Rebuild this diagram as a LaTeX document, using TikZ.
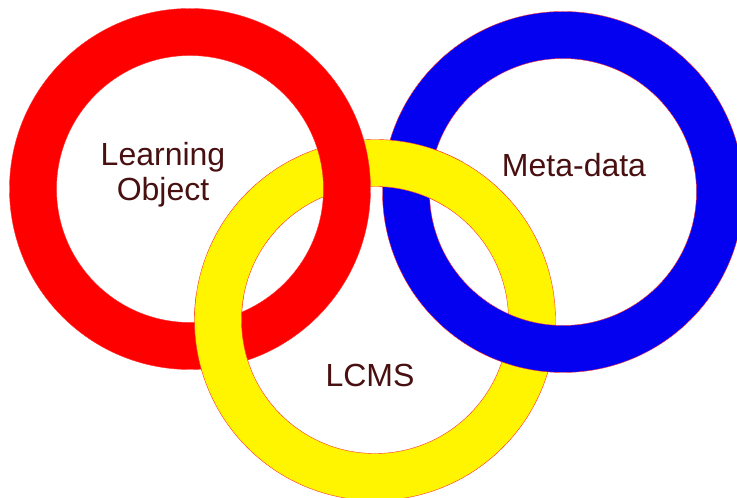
\documentclass[tikz,border=0pt]{standalone}
\usepackage{fontspec}
\setmainfont{Liberation Sans}
\usepackage{tikz}

\definecolor{ringred}{RGB}{255,0,0}
\definecolor{ringblue}{RGB}{4,0,240}
\definecolor{ringyellow}{RGB}{255,245,0}
\definecolor{labeltext}{RGB}{72,16,16}

\tikzset{
  ring/.style={even odd rule, draw=red!80, line width=0.4pt},
  label/.style={text=labeltext, font=\fontsize{32}{35}\selectfont, align=center}
}

\begin{document}
\begin{tikzpicture}[x=1pt, y=1pt]

        \useasboundingbox (0, 0) rectangle (737, 498);
        \clip (0, 0) rectangle (737, 498);

        % ring centres
        \coordinate (lo) at (190, 309);
        \coordinate (md) at (563, 306);
        \coordinate (lcms) at (375, 178);

        % where the yellow ring passes over the others
        \coordinate (cross-lo) at (219.7, 154.8);
        \coordinate (cross-md) at (408, 331.6);

        \filldraw[ring, fill=ringyellow] (lcms) circle (180.5) (lcms) circle (133.5);
        \filldraw[ring, fill=ringred] (lo) circle (180.5) (lo) circle (133.5);
        \filldraw[ring, fill=ringblue] (md) circle (180.5) (md) circle (133.5);

        % yellow again on top at two crossings
        \begin{scope}
          \clip (lo) circle (182);
          \clip (cross-lo) circle (55);
          \filldraw[ring, fill=ringyellow] (lcms) circle (180.5) (lcms) circle (133.5);
        \end{scope}
        \begin{scope}
          \clip (md) circle (182);
          \clip (cross-md) circle (55);
          \filldraw[ring, fill=ringyellow] (lcms) circle (180.5) (lcms) circle (133.5);
        \end{scope}

        \node[label] (lo-text) at (163, 323) {Learning\\Object};
        \node[label] (md-text) at (574, 333) {Meta-data};
        \node[label] (lcms-text) at (370, 123) {LCMS};

      \end{tikzpicture}
\end{document}
